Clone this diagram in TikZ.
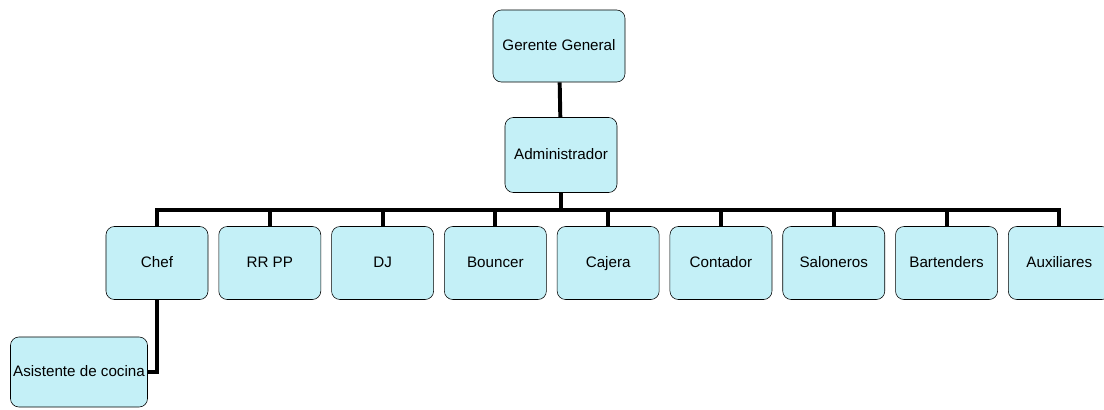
\documentclass[tikz,border=0pt]{standalone}
\usepackage{fontspec}
\setmainfont{Liberation Sans}
\usetikzlibrary{positioning}
\definecolor{boxCyan}{RGB}{196,240,247}
\tikzset{
  role/.style={draw, rounded corners=6pt, thin, fill=boxCyan, align=center, minimum width=2.55cm, minimum height=1.825cm, inner sep=1pt, text height=1.6ex, text depth=0.4ex, font=\fontsize{10.8}{13}\selectfont},
  link/.style={line width=2.8pt}
}

\begin{document}
\begin{tikzpicture}[x=0.025cm, y=-0.025cm, node distance=0.255cm]
  \useasboundingbox (0,0) rectangle (1104,409);
  \node[role, minimum width=3.3cm, minimum height=1.8cm] (ger) at (559,46) {Gerente General};
  \node[role, minimum width=2.8cm, minimum height=1.875cm] (adm) at (561,155) {Administrador};
  \coordinate (bus) at (561,210);

  \node[role] (chef) at (157,263) {Chef};
  \node[role, right=of chef] (rrpp) {RR PP};
  \node[role, right=of rrpp] (dj) {DJ};
  \node[role, right=of dj] (bouncer) {Bouncer};
  \node[role, right=of bouncer] (cajera) {Cajera};
  \node[role, right=of cajera] (cont) {Contador};
  \node[role, right=of cont] (salon) {Saloneros};
  \node[role, right=of salon] (bart) {Bartenders};
  \node[role, right=of bart] (aux) {Auxiliares};
  \node[role, minimum width=3.425cm, minimum height=1.75cm] (asist) at (79,372) {Asistente de cocina};

  \draw[link] (ger) -- (adm);
  \draw[link] (adm) -- (bus);
  \foreach \n in {chef,rrpp,dj,bouncer,cajera,cont,salon,bart,aux}
    \draw[link] (bus) -| (\n.north);
  \draw[link] (chef.south) |- (asist.east);
\end{tikzpicture}
\end{document}
